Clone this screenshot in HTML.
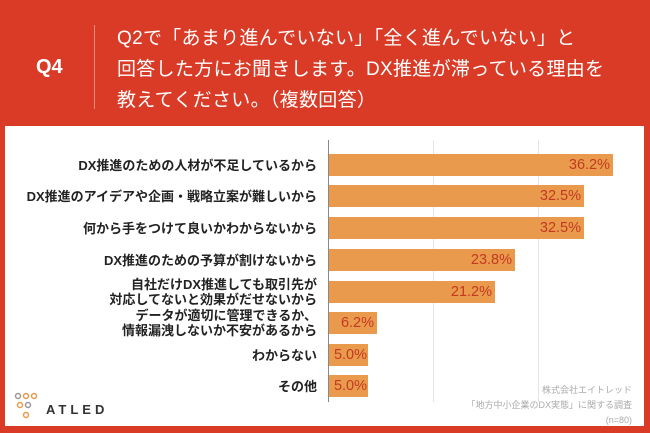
<!DOCTYPE html>
<html><head><meta charset="utf-8"><style>
body{margin:0;width:650px;height:433px;background:#D93B27;position:relative;overflow:hidden;font-family:"Liberation Sans","Noto Sans CJK JP",sans-serif}
.q4{position:absolute;left:36px;top:56px;color:#fff;font-size:20px;font-weight:bold}
.dv{position:absolute;left:94px;top:25px;width:1px;height:84px;background:#ee8877}
.qt{position:absolute;left:117px;top:23px;color:#fff;font-size:19px;line-height:31px;letter-spacing:0.3px}
.panel{position:absolute;left:5px;top:126px;width:639px;height:300px;background:#fff}
.ax{position:absolute;left:328px;top:140px;width:1px;height:262px;background:#888}
.g{position:absolute;top:140px;width:1px;height:262px;background:#e4e4e4}
.bar{position:absolute;left:329px;height:22px;background:#E99A4C;color:#C23A22;font-size:14.5px;line-height:22px;text-align:right;box-sizing:border-box;padding-right:3px;white-space:nowrap}
.lb{position:absolute;right:333px;color:#222;font-size:13px;font-weight:bold;text-align:right;line-height:15px;white-space:nowrap}
.ft{position:absolute;right:18px;color:#aaa;font-size:9px;text-align:right;line-height:15px;top:383px}
</style></head><body>
<div class="q4">Q4</div><div class="dv"></div>
<div class="qt">Q2で「あまり進んでいない」「全く進んでいない」と<br>回答した方にお聞きします。DX推進が滞っている理由を<br>教えてください。（複数回答）</div>
<div class="panel"></div>
<div class="g" style="left:433px"></div><div class="g" style="left:538px"></div>
<div class="ax"></div>
<div class="lb" style="top:158px">DX推進のための人材が不足しているから</div>
<div class="bar" style="top:154px;width:284px">36.2%</div>
<div class="lb" style="top:189px">DX推進のアイデアや企画・戦略立案が難しいから</div>
<div class="bar" style="top:185px;width:255px">32.5%</div>
<div class="lb" style="top:221px">何から手をつけて良いかわからないから</div>
<div class="bar" style="top:217px;width:255px">32.5%</div>
<div class="lb" style="top:253px">DX推進のための予算が割けないから</div>
<div class="bar" style="top:249px;width:186px">23.8%</div>
<div class="lb" style="top:277px">自社だけDX推進しても取引先が<br>対応してないと効果がだせないから</div>
<div class="bar" style="top:281px;width:166px">21.2%</div>
<div class="lb" style="top:308px">データが適切に管理できるか、<br>情報漏洩しないか不安があるから</div>
<div class="bar" style="top:312px;width:48px">6.2%</div>
<div class="lb" style="top:348px">わからない</div>
<div class="bar" style="top:344px;width:39px;padding-right:1px">5.0%</div>
<div class="lb" style="top:379px">その他</div>
<div class="bar" style="top:375px;width:39px;padding-right:1px">5.0%</div>
<div class="ft">株式会社エイトレッド<br>「地方中小企業のDX実態」に関する調査<br>(n=80)</div>
<svg style="position:absolute;left:14px;top:392px" width="100" height="32">
<g fill="none" stroke-width="1.5"><circle cx="4" cy="4" r="2.5" stroke="#999"/><circle cx="12" cy="4" r="2.5" stroke="#E99A4C"/><circle cx="20" cy="4" r="2.5" stroke="#E99A4C"/><circle cx="6" cy="13" r="2.5" stroke="#E99A4C"/><circle cx="14" cy="13" r="2.5" stroke="#999"/><circle cx="12" cy="23" r="2.5" stroke="#E99A4C"/></g>
<text x="32" y="22" font-size="13" font-weight="bold" fill="#333" letter-spacing="4" font-family="Liberation Sans">ATLED</text></svg>
</body></html>
